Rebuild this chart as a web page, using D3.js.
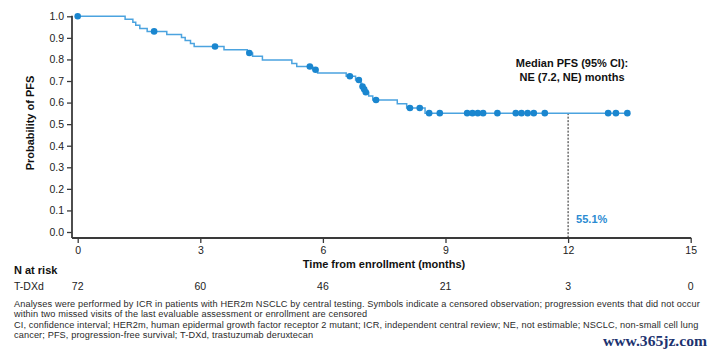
<!DOCTYPE html>
<html>
<head>
<meta charset="utf-8">
<script src="https://cdn.jsdelivr.net/npm/d3@7"></script>
<style>
  html, body { margin: 0; padding: 0; background: #fff; }
  svg { display: block; font-family: "Liberation Sans", Arial, sans-serif; }
</style>
</head>
<body>
<svg id="chart" width="723" height="355"></svg>
<script>
// ---- Data ----
const stepTimes = [0, 1.16, 1.35, 1.42, 1.52, 1.70, 2.18, 2.54, 2.63, 2.76, 2.85, 3.58, 4.15, 4.28, 4.52, 5.24, 5.36, 5.75, 5.87, 6.57, 6.80, 6.93, 6.95, 6.99, 7.03, 7.12, 7.22, 7.82, 8.05, 8.50, 13.45];
const stepSurv  = [1.000, 0.986, 0.972, 0.958, 0.944, 0.930, 0.916, 0.902, 0.888, 0.874, 0.860, 0.845, 0.830, 0.815, 0.797, 0.781, 0.767, 0.752, 0.737, 0.722, 0.705, 0.690, 0.674, 0.662, 0.648, 0.630, 0.612, 0.594, 0.575, 0.551, 0.551];
const censorTimes = [0, 1.87, 3.36, 4.20, 5.68, 5.82, 6.66, 6.88, 6.97, 7.01, 7.05, 7.30, 8.13, 8.37, 8.60, 8.86, 9.53, 9.66, 9.79, 9.92, 10.27, 10.72, 10.86, 11.01, 11.16, 11.43, 12.98, 13.17, 13.45];
const xTicks = [0, 3, 6, 9, 12, 15];
const yTicks = [0, 0.1, 0.2, 0.3, 0.4, 0.5, 0.6, 0.7, 0.8, 0.9, 1.0];
const atRiskTimes = [0, 3, 6, 9, 12, 15];
const atRiskValues = [72, 60, 46, 21, 3, 0];
const landmarkTime = 12;
const landmarkSurv = 0.551;
const landmarkLabel = "55.1%";
const medianLines = ["Median PFS (95% CI):", "NE (7.2, NE) months"];
const footnotes = [
  "Analyses were performed by ICR in patients with HER2m NSCLC by central testing. Symbols indicate a censored observation; progression events that did not occur",
  "within two missed visits of the last evaluable assessment or enrollment are censored",
  "CI, confidence interval; HER2m, human epidermal growth factor receptor 2 mutant; ICR, independent central review; NE, not estimable; NSCLC, non-small cell lung",
  "cancer; PFS, progression-free survival; T-DXd, trastuzumab deruxtecan"
];

// ---- Layout ----
const svg = d3.select("#chart");
const x = d3.scaleLinear().domain([0, 15]).range([77.7, 690.7]);
const y = d3.scaleLinear().domain([0, 1]).range([232, 16.3]);
const axisX = 72, axisY = 238;
const axisColor = "#3a3a3a";
const lineColor = "#4ba3df";
const dotColor = "#1a86cf";

// y axis
const yAxis = d3.axisLeft(y).tickValues(yTicks).tickFormat(d3.format(".1f")).tickSize(5).tickPadding(3);
const gy = svg.append("g").attr("transform", `translate(${axisX},0)`).call(yAxis);
gy.select(".domain").remove();
gy.selectAll(".tick line").attr("stroke", axisColor).attr("stroke-width", 1.3);
gy.selectAll(".tick text").attr("fill", "#222").style("font-size", "10.5px").style("font-family", "Liberation Sans, Arial, sans-serif");
svg.append("line").attr("x1", axisX).attr("x2", axisX).attr("y1", y(1) - 0.5).attr("y2", axisY)
  .attr("stroke", axisColor).attr("stroke-width", 1.8);

// x axis
const xAxis = d3.axisBottom(x).tickValues(xTicks).tickFormat(d3.format("d")).tickSize(5).tickPadding(4);
const gx = svg.append("g").attr("transform", `translate(0,${axisY})`).call(xAxis);
gx.select(".domain").remove();
gx.selectAll(".tick line").attr("stroke", axisColor).attr("stroke-width", 1.3);
gx.selectAll(".tick text").attr("fill", "#222").style("font-size", "10.5px").style("font-family", "Liberation Sans, Arial, sans-serif");
svg.append("line").attr("x1", axisX).attr("x2", x(15) + 0.5).attr("y1", axisY).attr("y2", axisY)
  .attr("stroke", axisColor).attr("stroke-width", 1.8);

// axis titles
svg.append("text").attr("x", 384).attr("y", 268).attr("text-anchor", "middle")
  .attr("font-size", 11).attr("font-weight", "bold").attr("fill", "#111").text("Time from enrollment (months)");
svg.append("text").attr("transform", "translate(34,123) rotate(-90)").attr("text-anchor", "middle")
  .attr("font-size", 11).attr("font-weight", "bold").attr("fill", "#111").text("Probability of PFS");

// landmark dashed line
svg.append("line").attr("x1", x(landmarkTime)).attr("x2", x(landmarkTime))
  .attr("y1", y(landmarkSurv)).attr("y2", axisY)
  .attr("stroke", "#222").attr("stroke-width", 1).attr("stroke-dasharray", "2,1.5");
svg.append("text").attr("x", x(landmarkTime) + 8).attr("y", 223).attr("font-size", 11)
  .attr("font-weight", "bold").attr("fill", "#2a8bd2").text(landmarkLabel);

// KM curve
const pts = stepTimes.map((t, i) => [t, stepSurv[i]]);
const line = d3.line().x(d => x(d[0])).y(d => y(d[1])).curve(d3.curveStepAfter);
svg.append("path").datum(pts).attr("d", line).attr("fill", "none")
  .attr("stroke", lineColor).attr("stroke-width", 1.5);

// censor marks
function survAt(t) {
  let s = stepSurv[0];
  for (let i = 0; i < stepTimes.length; i++) { if (stepTimes[i] <= t) s = stepSurv[i]; }
  return s;
}
svg.append("g").selectAll("circle").data(censorTimes).join("circle")
  .attr("cx", d => x(d)).attr("cy", d => y(survAt(d))).attr("r", 3.3).attr("fill", dotColor);

// median annotation
svg.append("g").selectAll("text").data(medianLines).join("text")
  .attr("x", 572).attr("y", (d, i) => 66.5 + i * 14.5).attr("text-anchor", "middle")
  .attr("font-size", 11).attr("font-weight", "bold").attr("fill", "#111").text(d => d);

// N at risk
svg.append("text").attr("x", 14).attr("y", 274).attr("font-size", 11).attr("font-weight", "bold")
  .attr("fill", "#111").text("N at risk");
svg.append("text").attr("x", 14).attr("y", 290).attr("font-size", 10.5).attr("fill", "#222").text("T-DXd");
svg.append("g").selectAll("text").data(atRiskValues).join("text")
  .attr("x", (d, i) => x(atRiskTimes[i])).attr("y", 290).attr("text-anchor", "middle")
  .attr("font-size", 10.5).attr("fill", "#222").text(d => d);

// footnotes
svg.append("g").selectAll("text").data(footnotes).join("text")
  .attr("x", 14).attr("y", (d, i) => 306.5 + i * 10.6)
  .attr("font-size", 9.2).attr("letter-spacing", "0.12px").attr("fill", "#2a2a2a").text(d => d);

// watermark
svg.append("text").attr("x", 603).attr("y", 346).attr("font-family", "Liberation Serif, serif")
  .attr("font-size", 15.5).attr("font-weight", "bold").attr("fill", "#1d3370")
  .attr("textLength", 104).attr("lengthAdjust", "spacingAndGlyphs").text("www.365jz.com");
</script>
</body>
</html>
